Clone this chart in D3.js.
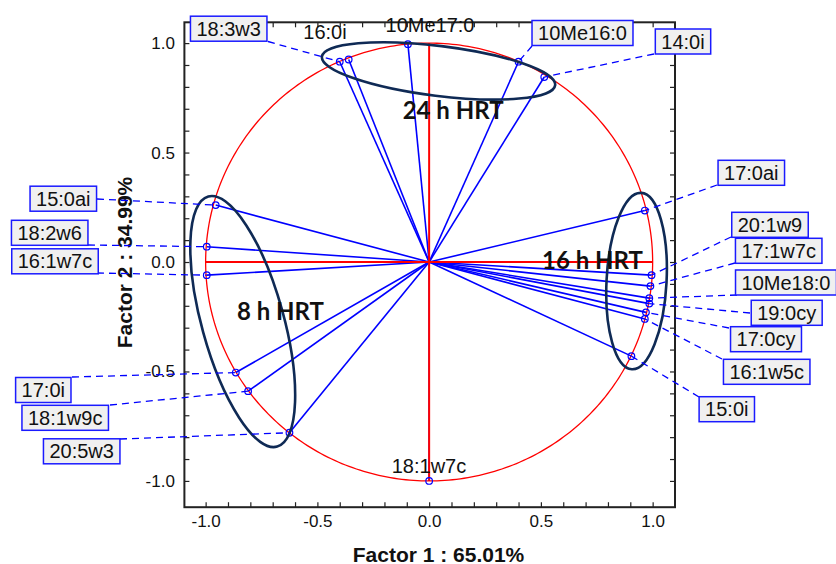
<!DOCTYPE html>
<html>
<head>
<meta charset="utf-8">
<script src="https://cdn.jsdelivr.net/npm/d3@7"></script>
<style>
    body { margin: 0; background: #fff; }
    svg { display: block; font-family: "Liberation Sans", Arial, sans-serif; }
</style>
</head>
<body>
<svg id="chart" width="836" height="564"></svg>
<script>
// variable names and their loadings on factor 1 / factor 2
let names = ['18:3w3', '16:0i', '10Me17:0', '10Me16:0', '14:0i', '17:0ai', '20:1w9', '17:1w7c',
    '10Me18:0', '19:0cy', '17:0cy', '16:1w5c', '15:0i', '18:1w7c', '20:5w3', '18:1w9c',
    '17:0i', '16:1w7c', '18:2w6', '15:0ai'];
let factor1 = [-0.40, -0.36, -0.095, 0.40, 0.515, 0.965, 0.995, 0.99,
    0.985, 0.985, 0.97, 0.965, 0.905, 0.0, -0.625, -0.81,
    -0.865, -0.995, -0.995, -0.955];
let factor2 = [0.915, 0.925, 0.995, 0.915, 0.845, 0.235, -0.06, -0.11,
    -0.165, -0.19, -0.23, -0.26, -0.43, -1.0, -0.78, -0.59,
    -0.505, -0.06, 0.07, 0.26];

let tickValues = d3.range(-10, 11).map(function (i) { return i / 10; });
let tickLabels = [-1.0, -0.5, 0.0, 0.5, 1.0];
let groupNames = ['24 h HRT', '16 h HRT', '8 h HRT'];
let axisTitles = ['Factor 1 : 65.01%', 'Factor 2 : 34.99%'];

// where the name tags sit (pixels): box centre, leader start
let labelLayout = {
    '18:3w3': {cx: 228.7, cy: 28.7, sx: 268, sy: 41.5, box: true},
    '16:0i': {cx: 325, cy: 39.3, box: false},
    '10Me17:0': {cx: 430, cy: 32.3, box: false},
    '10Me16:0': {cx: 582.5, cy: 33, sx: 532, sy: 46, box: true},
    '14:0i': {cx: 683, cy: 41.5, sx: 654, sy: 54, box: true},
    '17:0ai': {cx: 751.3, cy: 172.8, sx: 717, sy: 185, box: true},
    '20:1w9': {cx: 770, cy: 224.8, sx: 731, sy: 237, box: true},
    '17:1w7c': {cx: 778.7, cy: 250.8, sx: 735, sy: 263, box: true},
    '10Me18:0': {cx: 786, cy: 282.5, sx: 737, sy: 295, box: true},
    '19:0cy': {cx: 786.7, cy: 312.8, sx: 750, sy: 313, box: true},
    '17:0cy': {cx: 766, cy: 339.2, sx: 729, sy: 328, box: true},
    '16:1w5c': {cx: 766.7, cy: 371.8, sx: 722, sy: 359, box: true},
    '15:0i': {cx: 726.8, cy: 409.2, sx: 699, sy: 397, box: true},
    '18:1w7c': {cx: 429, cy: 473, box: false},
    '20:5w3': {cx: 81.7, cy: 451.3, sx: 120, sy: 439, box: true},
    '18:1w9c': {cx: 65.2, cy: 417.8, sx: 110, sy: 405, box: true},
    '17:0i': {cx: 43.3, cy: 390, sx: 72, sy: 377, box: true},
    '16:1w7c': {cx: 55, cy: 261.3, sx: 97, sy: 273, box: true},
    '18:2w6': {cx: 49.7, cy: 232.8, sx: 88, sy: 245, box: true},
    '15:0ai': {cx: 63.3, cy: 198.7, sx: 97, sy: 199, box: true}
};

// group ellipses (centre in factor units, radii in px) and their captions
let groupLayout = [
    {cx: 0.042, cy: 0.873, rx: 117.5, ry: 25, rot: 7, tx: 402.7, ty: 119},
    {cx: 0.928, cy: -0.087, rx: 30, ry: 88.3, rot: 3, tx: 542, ty: 269},
    {cx: -0.834, cy: -0.272, rx: 41, ry: 129.7, rot: -15.4, tx: 237, ty: 320}
];

let svg = d3.select('#chart');
let plotLeft = 184.4, plotRight = 675, plotTop = 22.3, plotBottom = 507.2;

let x = d3.scaleLinear().domain([-1.095, 1.1]).range([plotLeft, plotRight]);
let y = d3.scaleLinear().domain([-1.12, 1.095]).range([plotBottom, plotTop]);

let locale = d3.formatLocale({decimal: '.', thousands: ',', grouping: [3], currency: ['', ''], minus: '-'});
let fmt = locale.format('.1f');
function tickFormat(d) {
    let hit = tickLabels.some(function (t) { return Math.abs(t - d) < 1e-9; });
    return hit ? fmt(d) : '';
}

// axes, ticks pointing in
svg.append('g')
    .attr('transform', 'translate(0,' + plotBottom + ')')
    .call(d3.axisBottom(x).tickValues(tickValues).tickFormat(tickFormat).tickSizeInner(-5).tickSizeOuter(0).tickPadding(8));
svg.append('g')
    .attr('transform', 'translate(0,' + plotTop + ')')
    .call(d3.axisTop(x).tickValues(tickValues).tickFormat('').tickSizeInner(-5).tickSizeOuter(0));
svg.append('g')
    .attr('transform', 'translate(' + plotLeft + ',0)')
    .call(d3.axisLeft(y).tickValues(tickValues).tickFormat(tickFormat).tickSizeInner(-5).tickSizeOuter(0).tickPadding(9.5));
svg.append('g')
    .attr('transform', 'translate(' + plotRight + ',0)')
    .call(d3.axisRight(y).tickValues(tickValues).tickFormat('').tickSizeInner(-5).tickSizeOuter(0));

svg.selectAll('.domain').remove();
svg.selectAll('.tick line').attr('stroke', '#222').attr('stroke-width', 1.2);
svg.selectAll('.tick text')
    .attr('font-family', '"Liberation Sans", Arial, sans-serif')
    .attr('font-size', 17)
    .attr('fill', '#111');

svg.append('rect')
    .attr('x', plotLeft).attr('y', plotTop)
    .attr('width', plotRight - plotLeft).attr('height', plotBottom - plotTop)
    .attr('fill', 'none')
    .attr('stroke', '#222')
    .attr('stroke-width', 2);

// axis titles
svg.append('text')
    .attr('x', 438.5).attr('y', 561.5)
    .attr('text-anchor', 'middle')
    .attr('font-size', 21).attr('font-weight', 'bold')
    .attr('fill', '#111')
    .text(axisTitles[0]);
svg.append('text')
    .attr('transform', 'translate(131.5,262.5) rotate(-90)')
    .attr('text-anchor', 'middle')
    .attr('font-size', 21).attr('font-weight', 'bold')
    .attr('fill', '#111')
    .text(axisTitles[1]);

// unit circle
let circle = d3.line()
    .x(function (a) { return x(Math.cos(a)); })
    .y(function (a) { return y(Math.sin(a)); });
svg.append('path')
    .attr('d', circle(d3.range(0, 361).map(function (i) { return i * Math.PI / 180; })))
    .attr('fill', 'none')
    .attr('stroke', '#ff0000')
    .attr('stroke-width', 1.3);

let points = names.map(function (n, i) {
    return {name: n, f1: factor1[i], f2: factor2[i]};
});

// vectors from origin
svg.append('g').selectAll('line')
    .data(points)
    .enter().append('line')
    .attr('x1', x(0)).attr('y1', y(0))
    .attr('x2', function (d) { return x(d.f1); })
    .attr('y2', function (d) { return y(d.f2); })
    .attr('stroke', '#0000ff')
    .attr('stroke-width', 1.6);

// red cross over the vectors
svg.append('line')
    .attr('x1', x(-1)).attr('x2', x(1)).attr('y1', y(0)).attr('y2', y(0))
    .attr('stroke', '#ff0000').attr('stroke-width', 2);
svg.append('line')
    .attr('x1', x(0)).attr('x2', x(0)).attr('y1', y(-1)).attr('y2', y(1))
    .attr('stroke', '#ff0000').attr('stroke-width', 2);

svg.append('g').selectAll('circle')
    .data(points)
    .enter().append('circle')
    .attr('cx', function (d) { return x(d.f1); })
    .attr('cy', function (d) { return y(d.f2); })
    .attr('r', 3.3)
    .attr('fill', 'none')
    .attr('stroke', '#0000ff')
    .attr('stroke-width', 1.2);

// group ellipses
let groups = svg.append('g');
groupLayout.forEach(function (g, i) {
    groups.append('ellipse')
        .attr('cx', 0).attr('cy', 0)
        .attr('rx', g.rx).attr('ry', g.ry)
        .attr('transform', 'translate(' + x(g.cx) + ',' + y(g.cy) + ') rotate(' + g.rot + ')')
        .attr('fill', 'none')
        .attr('stroke', '#0f2a55')
        .attr('stroke-width', 2.6);
    groups.append('text')
        .attr('x', g.tx).attr('y', g.ty)
        .attr('font-family', 'Lato, "Open Sans", sans-serif')
        .attr('font-size', 24).attr('font-weight', 'bold')
        .attr('fill', '#111')
        .text(groupNames[i]);
});

// leader lines
let tagged = points.filter(function (d) { return labelLayout[d.name].box; });
svg.append('g').selectAll('line')
    .data(tagged)
    .enter().append('line')
    .attr('x1', function (d) { return labelLayout[d.name].sx; })
    .attr('y1', function (d) { return labelLayout[d.name].sy; })
    .attr('x2', function (d) { return x(d.f1); })
    .attr('y2', function (d) { return y(d.f2); })
    .attr('stroke', '#0000ff')
    .attr('stroke-width', 1.3)
    .attr('stroke-dasharray', '7,5');

// name tags
let tags = svg.append('g');
points.forEach(function (d) {
    let l = labelLayout[d.name];
    if (l.box) {
        let rect = tags.append('rect');
        let t = tags.append('text')
            .attr('x', l.cx).attr('y', l.cy + 7)
            .attr('text-anchor', 'middle')
            .attr('font-size', 20)
            .attr('fill', '#111')
            .text(d.name);
        let w = t.node().getComputedTextLength() + 12;
        rect.attr('x', l.cx - w / 2).attr('y', l.cy - 12.5)
            .attr('width', w).attr('height', 25)
            .attr('fill', '#f0f0f0')
            .attr('stroke', '#1a1aff')
            .attr('stroke-width', 1.5);
    } else {
        tags.append('text')
            .attr('x', l.cx).attr('y', l.cy)
            .attr('text-anchor', 'middle')
            .attr('font-size', 20)
            .attr('fill', '#111')
            .text(d.name);
    }
});
</script>
</body>
</html>
